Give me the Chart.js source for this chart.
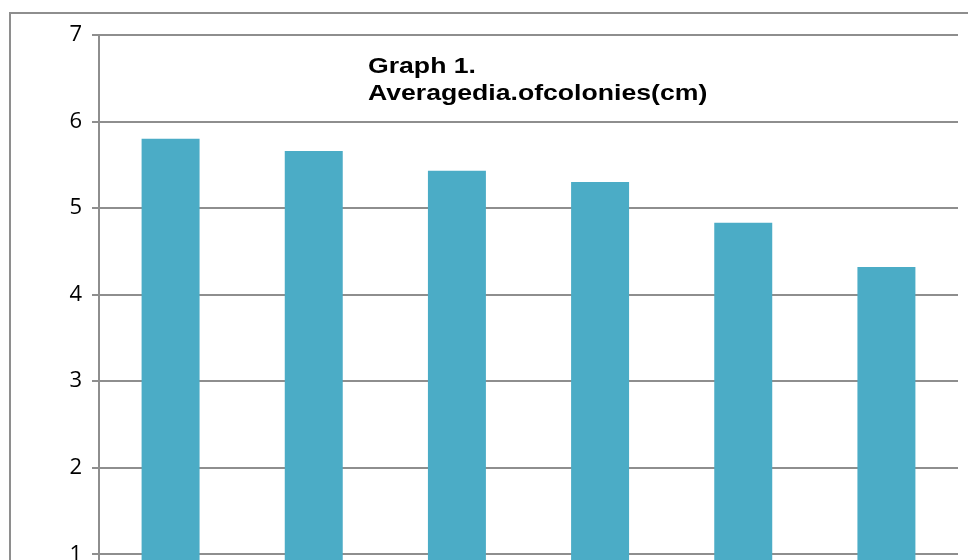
<!DOCTYPE html>
<html>
<head>
<meta charset="utf-8">
<script src="https://cdn.jsdelivr.net/npm/chart.js@4/dist/chart.umd.min.js"></script>
<style>
  html, body { margin: 0; padding: 0; background: #fff; overflow: hidden; }
  #wrap { position: relative; width: 968px; height: 560px; overflow: hidden; }
  #frame {
    position: absolute; left: 9px; top: 12px; width: 2000px; height: 2000px;
    border-top: 2px solid #8e8e8e; border-left: 2px solid #8e8e8e;
  }
  #chart { position: absolute; left: 0; top: 0; }
</style>
</head>
<body>
<div id="wrap">
  <div id="frame"></div>
  <canvas id="chart" width="968" height="664"></canvas>
</div>
<script>
// values (x labels are cut off in the reference)
const categories = ['1', '2', '3', '4', '5', '6'];
const avgDiameter = [5.80, 5.66, 5.43, 5.30, 4.83, 4.32];
const titleLines = ['Graph 1.', 'Averagedia.ofcolonies(cm)'];

const barColor = '#4bacc6';
const gridColor = '#8e8e8e';

// the title sits inside the plot area, so draw it by hand
const innerTitle = {
  id: 'innerTitle',
  afterDraw(chart) {
    const ctx = chart.ctx;
    const left = chart.chartArea.left + 269;
    ctx.save();
    ctx.translate(left, 0);
    ctx.scale(1.21, 1); // the original text is drawn a bit wide
    ctx.fillStyle = '#000';
    ctx.font = 'bold 22px "Liberation Sans", Arial, sans-serif';
    ctx.textAlign = 'left';
    ctx.textBaseline = 'alphabetic';
    titleLines.forEach((line, i) => {
      ctx.fillText(line, 0, 73 + i * 27);
    });
    ctx.restore();
  }
};

const ctx = document.getElementById('chart').getContext('2d');
new Chart(ctx, {
  type: 'bar',
  data: {
    labels: categories,
    datasets: [{
      label: 'Average dia. of colonies (cm)',
      data: avgDiameter,
      backgroundColor: barColor,
      borderWidth: 0,
      categoryPercentage: 1,
      barPercentage: 0.405
    }]
  },
  options: {
    responsive: false,
    animation: false,
    layout: {
      padding: { top: 35, right: 10, bottom: 16, left: 0 }
    },
    plugins: {
      legend: { display: false },
      title: { display: false },
      tooltip: { enabled: false }
    },
    scales: {
      x: {
        display: false
      },
      y: {
        min: 0,
        max: 7,
        afterFit: (scale) => { scale.width = 99; },
        ticks: {
          stepSize: 1,
          color: '#000',
          padding: 10,
          font: { family: '"Open Sans", "DejaVu Sans", sans-serif', size: 22 }
        },
        grid: {
          color: gridColor,
          lineWidth: 2,
          tickLength: 7,
          drawTicks: true
        },
        border: { color: gridColor, width: 2 }
      }
    }
  },
  plugins: [innerTitle]
});
</script>
</body>
</html>
